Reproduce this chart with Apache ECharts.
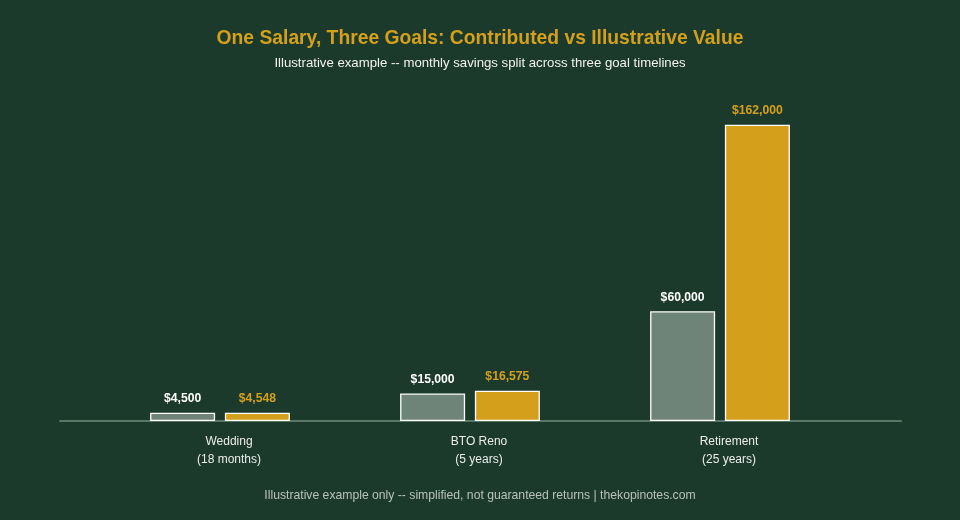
<!DOCTYPE html>
<html>
<head>
<meta charset="utf-8">
<script src="https://cdn.jsdelivr.net/npm/echarts@6/dist/echarts.min.js"></script>
<style>
  html, body { margin: 0; padding: 0; background: #1b3a2c; }
  #chart { width: 960px; height: 520px; }
</style>
</head>
<body>
<div id="chart"></div>
<script>
// data
const goals = ['Wedding\n(18 months)', 'BTO Reno\n(5 years)', 'Retirement\n(25 years)']
const contributed = [4500, 15000, 60000]
const illustrative = [4548, 16575, 162000]

const BG = '#1b3a2c'
const GOLD = '#d4a01c'
const GREY = '#6f8478'
const FONT = '"Liberation Sans", Arial, sans-serif'

const money = (v) => '$' + v.toLocaleString('en-US')

const chart = echarts.init(document.getElementById('chart'))

chart.setOption({
  backgroundColor: BG,
  animation: false,
  textStyle: { fontFamily: FONT },
  title: [
    {
      text: 'One Salary, Three Goals: Contributed vs Illustrative Value',
      left: 'center',
      top: 24,
      textStyle: { color: GOLD, fontSize: 19.3, fontWeight: 'bold', fontFamily: FONT }
    },
    {
      text: 'Illustrative example -- monthly savings split across three goal timelines',
      left: 'center',
      top: 52,
      textStyle: { color: '#f2f2f2', fontSize: 13.2, fontWeight: 'normal', fontFamily: FONT }
    },
    {
      text: 'Illustrative example only -- simplified, not guaranteed returns | thekopinotes.com',
      left: 'center',
      top: 485,
      textStyle: { color: '#b9c2bb', fontSize: 12.2, fontWeight: 'normal', fontFamily: FONT }
    }
  ],
  grid: [
    // baseline grid (wider, only draws the axis line)
    { left: 60, right: 59, top: 95, bottom: 99 },
    // bars grid
    { left: 95, right: 115, top: 95, bottom: 99 }
  ],
  xAxis: [
    {
      gridIndex: 0,
      type: 'value',
      min: 0,
      max: 1,
      axisLine: { show: true, onZero: false, lineStyle: { color: '#587764', width: 2 } },
      axisTick: { show: false },
      axisLabel: { show: false },
      splitLine: { show: false }
    },
    {
      gridIndex: 1,
      type: 'category',
      data: goals,
      axisLine: { show: false },
      axisTick: { show: false },
      axisLabel: {
        color: '#ececec',
        fontSize: 12,
        lineHeight: 18,
        margin: 12,
        padding: [0, 0, 0, 18],
        fontFamily: FONT
      }
    }
  ],
  yAxis: [
    { gridIndex: 0, type: 'value', show: false, min: 0, max: 1 },
    { gridIndex: 1, type: 'value', show: false, min: 0, max: 178200 }
  ],
  series: [
    {
      name: 'Contributed',
      type: 'bar',
      xAxisIndex: 1,
      yAxisIndex: 1,
      data: contributed,
      barWidth: 65,
      barGap: '15%',
      itemStyle: { color: GREY, borderColor: '#ffffff', borderWidth: 1.3 },
      label: {
        show: true,
        position: 'top',
        distance: 8,
        color: '#ffffff',
        fontSize: 12.2,
        fontWeight: 'bold',
        fontFamily: FONT,
        formatter: (p) => money(p.value)
      }
    },
    {
      name: 'Illustrative value',
      type: 'bar',
      xAxisIndex: 1,
      yAxisIndex: 1,
      data: illustrative,
      barWidth: 65,
      itemStyle: { color: GOLD, borderColor: '#ffffff', borderWidth: 1.3 },
      label: {
        show: true,
        position: 'top',
        distance: 8,
        color: GOLD,
        fontSize: 12.2,
        fontWeight: 'bold',
        fontFamily: FONT,
        formatter: (p) => money(p.value)
      }
    }
  ]
})
</script>
</body>
</html>
